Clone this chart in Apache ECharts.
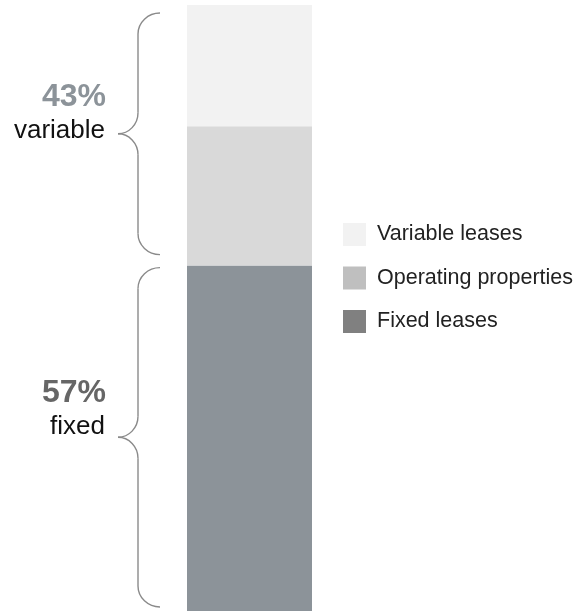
<!DOCTYPE html>
<html>
<head>
<meta charset="utf-8">
<script src="https://cdn.jsdelivr.net/npm/echarts@6/dist/echarts.min.js"></script>
<style>
  html, body { margin: 0; padding: 0; background: #ffffff; }
  #chart { width: 577px; height: 611px; }
</style>
</head>
<body>
<div id="chart"></div>
<script>
// Revenue mix, one stacked column (share of total, %)
const categories = ['Revenue'];
const fixedLeases = [57];
const operatingProperties = [23];
const variableLeases = [20];

const seriesNames = ['Fixed leases', 'Operating properties', 'Variable leases'];
const legendOrder = ['Variable leases', 'Operating properties', 'Fixed leases'];
const groupWords = ['variable', 'fixed'];

const FONT = '"Liberation Sans", Arial, Helvetica, sans-serif';
const barColors = { 'Fixed leases': '#8c9399', 'Operating properties': '#d9d9d9', 'Variable leases': '#f2f2f2' };
const legendColors = { 'Fixed leases': '#808080', 'Operating properties': '#bfbfbf', 'Variable leases': '#f2f2f2' };

const seriesData = [fixedLeases, operatingProperties, variableLeases];

const chart = echarts.init(document.getElementById('chart'), null, { renderer: 'canvas' });

chart.setOption({
  animation: false,
  backgroundColor: '#ffffff',
  grid: { left: 187, right: 265, top: 5, bottom: 0 },
  xAxis: { type: 'category', data: categories, show: false },
  yAxis: { type: 'value', min: 0, max: 100, show: false },
  legend: {
    orient: 'vertical',
    left: 343,
    top: 223,
    padding: 0,
    itemWidth: 23,
    itemHeight: 23,
    itemGap: 20.5,
    icon: 'rect',
    selectedMode: false,
    textStyle: { fontFamily: FONT, fontSize: 21.5, color: '#222222', padding: [0, 0, 0, 6] },
    data: legendOrder.map(n => ({ name: n, itemStyle: { color: legendColors[n] } }))
  },
  series: seriesNames.map((name, i) => ({
    name: name,
    type: 'bar',
    stack: 'mix',
    barWidth: '100%',
    itemStyle: { color: barColors[name] },
    data: seriesData[i]
  }))
});

// Group braces and their labels, placed from the stacked values
const fixedTotal = fixedLeases[0];
const variableTotal = operatingProperties[0] + variableLeases[0];
const yPx = v => chart.convertToPixel({ gridIndex: 0 }, [0, v])[1];

const braceStyle = { fill: null, stroke: '#8a8a8a', lineWidth: 1.4 };

// A curly brace opening to the right: ends at xEnd, spine at xSpine, point at xTip
function brace(xEnd, xSpine, xTip, y1, y2, r) {
  const ym = (y1 + y2) / 2;
  const k = 0.55;
  const curve = (x1, yA, x2, yB, c1x, c1y, c2x, c2y) => ({
    type: 'bezierCurve',
    shape: { x1: x1, y1: yA, x2: x2, y2: yB, cpx1: c1x, cpy1: c1y, cpx2: c2x, cpy2: c2y },
    style: braceStyle
  });
  const dx = xEnd - xSpine;
  const tx = xSpine - xTip;
  return [
    curve(xEnd, y1, xSpine, y1 + r, xEnd - dx * k, y1, xSpine, y1 + r * (1 - k)),
    { type: 'line', shape: { x1: xSpine, y1: y1 + r, x2: xSpine, y2: ym - r }, style: braceStyle },
    curve(xSpine, ym - r, xTip, ym, xSpine, ym - r * (1 - k), xSpine - tx * (1 - k), ym),
    curve(xTip, ym, xSpine, ym + r, xSpine - tx * (1 - k), ym, xSpine, ym + r * (1 - k)),
    { type: 'line', shape: { x1: xSpine, y1: ym + r, x2: xSpine, y2: y2 - r }, style: braceStyle },
    curve(xSpine, y2 - r, xEnd, y2, xSpine, y2 - r * (1 - k), xEnd - dx * k, y2)
  ];
}

const groups = [
  { total: variableTotal, word: groupWords[0], from: 100, to: 100 - variableTotal,
    inset: [8, 11], numColor: '#8c9399', numDy: -37, wordDy: -3 },
  { total: fixedTotal, word: groupWords[1], from: fixedTotal, to: 0,
    inset: [2, 4], numColor: '#666666', numDy: -44, wordDy: -10 }
];

const graphics = [];
groups.forEach(g => {
  const y1 = yPx(g.from) + g.inset[0];
  const y2 = yPx(g.to) - g.inset[1];
  const tip = (y1 + y2) / 2;
  brace(160, 138, 118, y1, y2, 21).forEach(el => graphics.push(el));
  graphics.push({
    type: 'text',
    x: 106, y: tip + g.numDy,
    style: { text: g.total + '%', fontFamily: FONT, fontSize: 32, fontWeight: 'bold',
      fill: g.numColor, align: 'right', verticalAlign: 'middle' }
  });
  graphics.push({
    type: 'text',
    x: 105, y: tip + g.wordDy,
    style: { text: g.word, fontFamily: FONT, fontSize: 26,
      fill: '#111111', align: 'right', verticalAlign: 'middle' }
  });
});

chart.setOption({ graphic: graphics });
</script>
</body>
</html>
